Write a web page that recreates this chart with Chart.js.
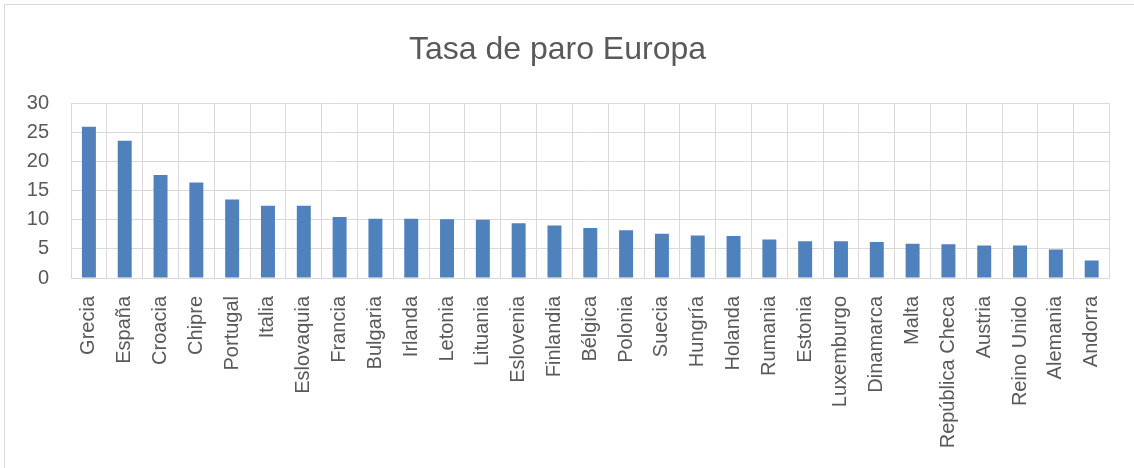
<!DOCTYPE html>
<html>
<head>
<meta charset="utf-8">
<script src="https://cdn.jsdelivr.net/npm/chart.js@4/dist/chart.umd.min.js"></script>
<style>
  html, body { margin: 0; padding: 0; background: #fff; }
  #wrap { position: relative; width: 1134px; height: 468px; overflow: hidden; }
  #frame { position: absolute; left: 4px; top: 4px; width: 1140px; height: 480px;
           border-left: 1px solid #d9d9d9; border-top: 1px solid #d9d9d9; pointer-events: none; }
</style>
</head>
<body>
<div id="wrap">
  <canvas id="paroChart" width="1134" height="468"></canvas>
  <div id="frame"></div>
</div>
<script>
    // Datos: tasa de paro por país
    const paises = [
        "Grecia", "España", "Croacia", "Chipre", "Portugal", "Italia", "Eslovaquia",
        "Francia", "Bulgaria", "Irlanda", "Letonia", "Lituania", "Eslovenia", "Finlandia",
        "Bélgica", "Polonia", "Suecia", "Hungría", "Holanda", "Rumania", "Estonia",
        "Luxemburgo", "Dinamarca", "Malta", "República Checa", "Austria", "Reino Unido",
        "Alemania", "Andorra"
    ];

    const tasaParo = [
        26.0, 23.6, 17.7, 16.4, 13.5, 12.4, 12.4,
        10.5, 10.2, 10.2, 10.1, 10.0, 9.4, 9.0,
        8.6, 8.2, 7.6, 7.3, 7.2, 6.6, 6.3,
        6.3, 6.2, 5.9, 5.8, 5.6, 5.6,
        4.9, 3.0
    ];

    const yMin = 0;
    const yMax = 30;
    const yStep = 5;

    const gris = "#595959";
    const lineaGris = "#d9d9d9";

    const ctx = document.getElementById("paroChart").getContext("2d");
    new Chart(ctx, {
        type: "bar",
        data: {
            labels: paises,
            datasets: [{
                label: "Tasa de paro",
                data: tasaParo,
                backgroundColor: "#4f81bd",
                borderWidth: 0,
                categoryPercentage: 1,
                barPercentage: 0.39
            }]
        },
        options: {
            responsive: false,
            animation: false,
            layout: { padding: { left: 0, right: 19, top: 0, bottom: 0 } },
            plugins: {
                legend: { display: false },
                tooltip: { enabled: false },
                title: {
                    display: true,
                    text: "Tasa de paro Europa",
                    color: gris,
                    font: { family: "'Liberation Sans', Arial, sans-serif", size: 32, weight: "normal" },
                    padding: { top: 31, bottom: 34 }
                }
            },
            scales: {
                x: {
                    grid: { color: lineaGris, drawTicks: false, offset: true },
                    border: { color: lineaGris },
                    ticks: {
                        color: gris,
                        font: { family: "'Liberation Sans', Arial, sans-serif", size: 20 },
                        minRotation: 90,
                        maxRotation: 90,
                        autoSkip: false,
                        padding: 18
                    },
                    afterFit: (scale) => { scale.height = 190; }
                },
                y: {
                    min: yMin,
                    max: yMax,
                    grid: { color: lineaGris, drawTicks: false },
                    border: { color: lineaGris },
                    ticks: {
                        stepSize: yStep,
                        color: gris,
                        font: { family: "'Liberation Sans', Arial, sans-serif", size: 20 },
                        padding: 22
                    },
                    afterFit: (scale) => { scale.width = 71; }
                }
            }
        }
    });
</script>
</body>
</html>
